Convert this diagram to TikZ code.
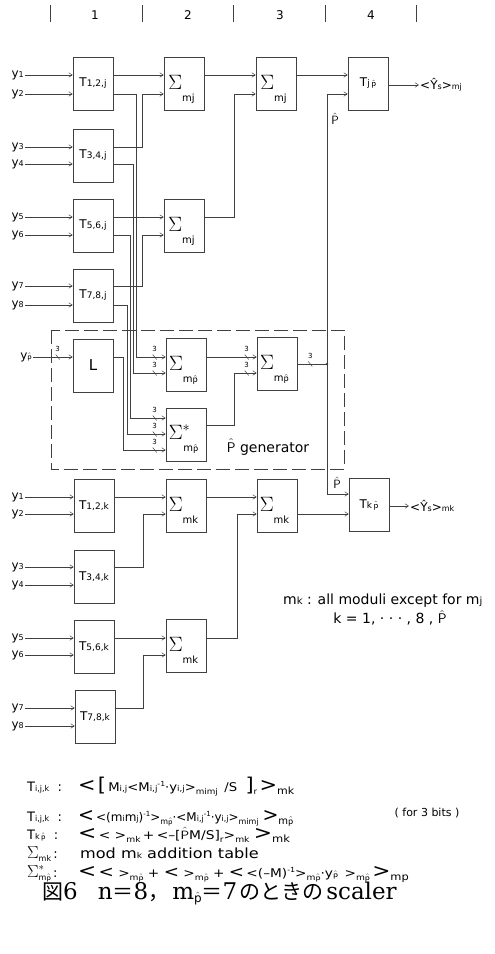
\documentclass[tikz,border=0pt]{standalone}
\usepackage{fontspec}
\usepackage{graphicx}
\setmainfont{DejaVu Sans}
\newfontfamily\cjkfont{Noto Sans CJK JP}
\newfontfamily\capfont{DejaVu Serif}
\usetikzlibrary{arrows.meta,calc}
\newcommand\fz[1]{\fontsize{#1}{#1}\selectfont}
\newcommand\mylo[1]{\raisebox{-3pt}{\fz{8}#1}}
\newcommand\myhi[1]{\raisebox{4.5pt}{\fz{7}#1}}
\newcommand\mysm[1]{{\fz{8}#1}}
\newcommand\smsub{\fz{9}}
\newcommand\php{$\hat{\mathsf p}$}
\newcommand\PH{$\hat{\mathsf P}$}
\newcommand\bigc[1]{{\fz{19}#1}}
\tikzset{
 blk/.style={draw=black!75,line width=0.6pt,minimum width=40pt,minimum height=53pt,inner sep=0pt,font=\fz{12}},
 sigl/.style={anchor=base,inner sep=0pt},
 wire/.style={draw=black!75,line width=0.5pt},
 arr/.style={wire,-{Straight Barb[length=3.5pt,width=4.5pt]}},
 ylab/.style={anchor=east,inner sep=1pt,font=\fz{12}},
 fml/.style={anchor=base west,inner sep=0pt,font=\fz{12}},
 bits/.pic={\draw[wire] (-2,-2.5) -- (2,2.5); \node[inner sep=0pt,font=\fz{7}] at (0,-8) {3};}
}
\newcommand\mysig[3]{%
  \node[blk] (#1) at (#2) {};
  \node[sigl] at ($(#1.center)+(-2.5,6)$) {{\fz{20}$\Sigma$}\raisebox{-12pt}{\fz{10}#3}};
}
\begin{document}
\begin{tikzpicture}[x=1pt,y=-1pt]
\useasboundingbox (0,0) rectangle (495,954);
% header
\foreach \x in {50,142,233,325,416} \draw[wire] (\x,5) -- (\x,22);
\foreach \x/\t in {95/1,188/2,280/3,371/4} \node[font=\fz{12}] at (\x,15) {\t};
% bus columns and levels
\coordinate (bu) at (142,0); \coordinate (b1) at (136,0); \coordinate (b2) at (133,0);
\coordinate (b3) at (130,0); \coordinate (b4) at (127,0); \coordinate (b5) at (123,0);
\coordinate (c3) at (234,0); \coordinate (pp) at (327,0); \coordinate (bk) at (143,0);
\coordinate (c3k) at (237,0);
\coordinate (lv-g2) at (0,373); \coordinate (lv-go) at (0,364);
\coordinate (lv-s1) at (0,418); \coordinate (lv-s2) at (0,434); \coordinate (lv-s3) at (0,450);
\coordinate (lv-so) at (0,425); \coordinate (lv-jo) at (0,85);
\coordinate (lv-kp) at (0,494); \coordinate (lv-ko) at (0,506);
% input labels
\foreach \n/\yy/\t in {yj1/75/1,yj2/94/2,yj3/147/3,yj4/164/4,yj5/217/5,yj6/235/6,yj7/286/7,yj8/305/8,
  yk1/497/1,yk2/514/2,yk3/567/3,yk4/585/4,yk5/638/5,yk6/655/6,yk7/708/7,yk8/726/8}
  \node[ylab] (\n) at (25,\yy) {y{\fz{8}\t}};
\node[ylab] (yp) at (33,357) {y{\fz{8}\php}};
% j row boxes
\node[blk] (T12j) at (93,83.5) {T{\smsub 1,2,j}};
\node[blk] (T34j) at (93,155.5) {T{\smsub 3,4,j}};
\node[blk] (T56j) at (93,225.5) {T{\smsub 5,6,j}};
\node[blk] (T78j) at (93,295.5) {T{\smsub 7,8,j}};
\mysig{S2a}{184,83.5}{mj}
\mysig{S3a}{276,83.5}{mj}
\mysig{S2b}{184,225.5}{mj}
\node[blk] (Tjp) at (368,83.5) {T{\smsub j\,\php}};
% generator
\node[blk,font=\fz{15}] (L) at (93,365.5) {L};
\mysig{Sg2}{186,364.5}{m\php}
\mysig{Sg3}{277,363.5}{m\php}
\node[blk] (Sst) at (186,434.5) {};
\node[sigl] at ($(Sst.center)+(-2.5,5)$) {{\fz{20}$\Sigma^{*}$}\hspace{-7pt}\raisebox{-12pt}{\fz{10}m\php}};
\draw[wire,dash pattern=on 14pt off 5pt] (51,330) rectangle (344,469);
\node[font=\fz{14}] at (268,447) {\PH\ generator};
% k row boxes
\node[blk] (T12k) at (94,506) {T{\smsub 1,2,k}};
\node[blk] (T34k) at (94,577) {T{\smsub 3,4,k}};
\node[blk] (T56k) at (94,647) {T{\smsub 5,6,k}};
\node[blk] (T78k) at (95,716.5) {T{\smsub 7,8,k}};
\mysig{S2k}{186,505.5}{mk}
\mysig{S3k}{277,505.5}{mk}
\mysig{S2kb}{186,645.5}{mk}
\node[blk] (Tkp) at (369,504.5) {T{\smsub k\,\php}};
% input wires
\draw[arr] (yj1.east) -- (yj1.east -| T12j.west);
\draw[arr] (yj2.east) -- (yj2.east -| T12j.west);
\draw[arr] (yj3.east) -- (yj3.east -| T34j.west);
\draw[arr] (yj4.east) -- (yj4.east -| T34j.west);
\draw[arr] (yj5.east) -- (yj5.east -| T56j.west);
\draw[arr] (yj6.east) -- (yj6.east -| T56j.west);
\draw[arr] (yj7.east) -- (yj7.east -| T78j.west);
\draw[arr] (yj8.east) -- (yj8.east -| T78j.west);
\draw[arr] (yp.east) -- (yp.east -| L.west);
\draw[arr] (yk1.east) -- (yk1.east -| T12k.west);
\draw[arr] (yk2.east) -- (yk2.east -| T12k.west);
\draw[arr] (yk3.east) -- (yk3.east -| T34k.west);
\draw[arr] (yk4.east) -- (yk4.east -| T34k.west);
\draw[arr] (yk5.east) -- (yk5.east -| T56k.west);
\draw[arr] (yk6.east) -- (yk6.east -| T56k.west);
\draw[arr] (yk7.east) -- (yk7.east -| T78k.west);
\draw[arr] (yk8.east) -- (yk8.east -| T78k.west);
% j row wiring
\draw[arr] (T12j.east |- yj1) -- (S2a.west |- yj1);
\draw[arr] (T34j.east |- yj3) -| (bu |- yj2) -- (S2a.west |- yj2);
\draw[arr] (T56j.east |- yj5) -- (S2b.west |- yj5);
\draw[arr] (T78j.east |- yj7) -| (bu |- yj6) -- (S2b.west |- yj6);
\draw[arr] (S2a.east |- yj1) -- (S3a.west |- yj1);
\draw[arr] (S2b.east |- yj5) -| (c3 |- yj2) -- (S3a.west |- yj2);
\draw[arr] (S3a.east |- yj1) -- (Tjp.west |- yj1);
\node[anchor=west,inner sep=1pt,font=\fz{12}] (outj) at (419,85) {<Ŷ{\fz{8}s}>{\fz{8}mj}};
\draw[arr] (Tjp.east |- lv-jo) -- (outj.west |- lv-jo);
% bus to generator
\draw[arr] (T12j.east |- yj2) -| (b1 |- yp) -- (Sg2.west |- yp);
\draw[arr] (T34j.east |- yj4) -| (b2 |- lv-g2) -- (Sg2.west |- lv-g2);
\draw[arr] (T56j.east |- yj6) -| (b3 |- lv-s1) -- (Sst.west |- lv-s1);
\draw[arr] (T78j.east |- yj8) -| (b4 |- lv-s2) -- (Sst.west |- lv-s2);
\draw[arr] (L.east |- yp) -| (b5 |- lv-s3) -- (Sst.west |- lv-s3);
\draw[arr] (Sg2.east |- yp) -- (Sg3.west |- yp);
\draw[arr] (Sst.east |- lv-so) -| (c3 |- lv-g2) -- (Sg3.west |- lv-g2);
\draw[wire] (Sg3.east |- lv-go) -- (pp |- lv-go);
\fill[black!75] (pp |- lv-go) circle (1.3);
\draw[arr] (pp |- lv-go) |- (Tjp.west |- yj2);
\draw[arr] (pp |- lv-go) |- (Tkp.west |- lv-kp);
\node[font=\fz{12}] at (335,119) {\PH};
\node[font=\fz{12}] at (337,483) {\PH};
% bit marks
\pic at ($(yp.east -| L.west)+(-15,0)$) {bits};
\pic at ($(Sg2.west |- yp)+(-11,0)$) {bits};
\pic at ($(Sg2.west |- lv-g2)+(-11,0)$) {bits};
\pic at ($(Sst.west |- lv-s1)+(-11,0)$) {bits};
\pic at ($(Sst.west |- lv-s2)+(-11,0)$) {bits};
\pic at ($(Sst.west |- lv-s3)+(-11,0)$) {bits};
\pic at ($(Sg3.west |- yp)+(-10,0)$) {bits};
\pic at ($(Sg3.west |- lv-g2)+(-10,0)$) {bits};
\pic at ($(Sg3.east |- lv-go)+(13,0)$) {bits};
% k row wiring
\draw[arr] (T12k.east |- yk1) -- (S2k.west |- yk1);
\draw[arr] (T34k.east |- yk3) -| (bk |- yk2) -- (S2k.west |- yk2);
\draw[arr] (S2k.east |- yk1) -- (S3k.west |- yk1);
\draw[arr] (T56k.east |- yk5) -- (S2kb.west |- yk5);
\draw[arr] (T78k.east |- yk7) -| (bk |- yk6) -- (S2kb.west |- yk6);
\draw[arr] (S2kb.east |- yk5) -| (c3k |- yk2) -- (S3k.west |- yk2);
\draw[arr] (S3k.east |- yk2) -- (Tkp.west |- yk2);
\node[anchor=west,inner sep=1pt,font=\fz{12}] (outk) at (409,506) {<Ŷ{\fz{8}s}>{\fz{8}mk}};
\draw[arr] (Tkp.east |- lv-ko) -- (outk.west |- lv-ko);
% notes
\node[anchor=west,inner sep=0pt,font=\fz{14}] at (283,601) {m{\fz{10}k} : all moduli except for m{\fz{10}j}};
\node[inner sep=0pt,font=\fz{14}] at (390,618) {k = 1, · · · , 8 , \PH};
% formulas: labels
\node[fml,font=\fz{13}] at (27,791) {T\mysm{i,j,k}\ \ :};
\node[fml,font=\fz{13}] at (27,821) {T\mysm{i,j,k}\ \ :};
\node[fml,font=\fz{13}] at (27,839) {T\mysm{k\,\php}\ \ :};
\node[fml,font=\fz{13}] at (27,858) {{\fz{16}$\Sigma$}\mylo{mk}\,:};
\node[fml,font=\fz{13}] at (27,877) {{\fz{16}$\Sigma^{*}$}\hspace{-6pt}\mylo{m\php}\,:};
% formulas: contents
\node[fml] at (78,791) {\scalebox{1.1}[1]{\bigc{<}\,\bigc{[}\,M\mysm{i,j}<M\mysm{i,j}\myhi{-1}·y\mysm{i,j}>\mylo{mimj}\ \,/S\ \ \bigc{]}\mylo{r}\,\bigc{>}\mylo{\fz{10}mk}}};
\node[fml] at (78,821) {\scalebox{1.0}[1]{\bigc{<}\,<(m\mysm{i}m\mysm{j})\myhi{-1}>\mylo{m\php}·<M\mysm{i,j}\myhi{-1}·y\mysm{i,j}>\mylo{mimj}\ \bigc{>}\mylo{\fz{10}m\php}}};
\node[font=\fz{11}] at (427,813) {( for 3 bits )};
\node[fml] at (78,839) {\scalebox{1.15}[1]{\bigc{<}\,<\ >\mylo{mk}\,+\,<–[\PH M/S]\mylo{r}>\mylo{mk}\ \bigc{>}\mylo{\fz{10}mk}}};
\node[fml,font=\fz{14}] at (80,858) {\scalebox{1.15}[1]{mod m\mysm{k} addition table}};
\node[fml] at (78,877) {\scalebox{1.14}[1]{\bigc{<}\,{\fz{16}<}\ >\mylo{m\php}\ +\ {\fz{16}<}\ >\mylo{m\php}\ +\ {\fz{16}<}\,<(–M)\myhi{-1}>\mylo{m\php}·y\mysm{\php}\ \,>\mylo{m\php}\,\bigc{>}\mylo{\fz{10}mp}}};
% caption
\node[anchor=base west,inner sep=0pt] (cap) at (42,899) {{\cjkfont\fz{21}図}{\capfont\fz{23}6}\hspace{20pt}{\capfont\fz{23}n}{\cjkfont\fz{21}＝}{\capfont\fz{23}8}{\cjkfont\fz{21}，}\hspace{3pt}{\capfont\fz{23}m}\raisebox{-3pt}{\fz{12}$\hat{\mathrm p}$}{\cjkfont\fz{21}＝}{\capfont\fz{23}7}\hspace{2pt}{\cjkfont\fz{21}のときの}\hspace{3pt}{\capfont\fz{23}scaler}};
\end{tikzpicture}
\end{document}
